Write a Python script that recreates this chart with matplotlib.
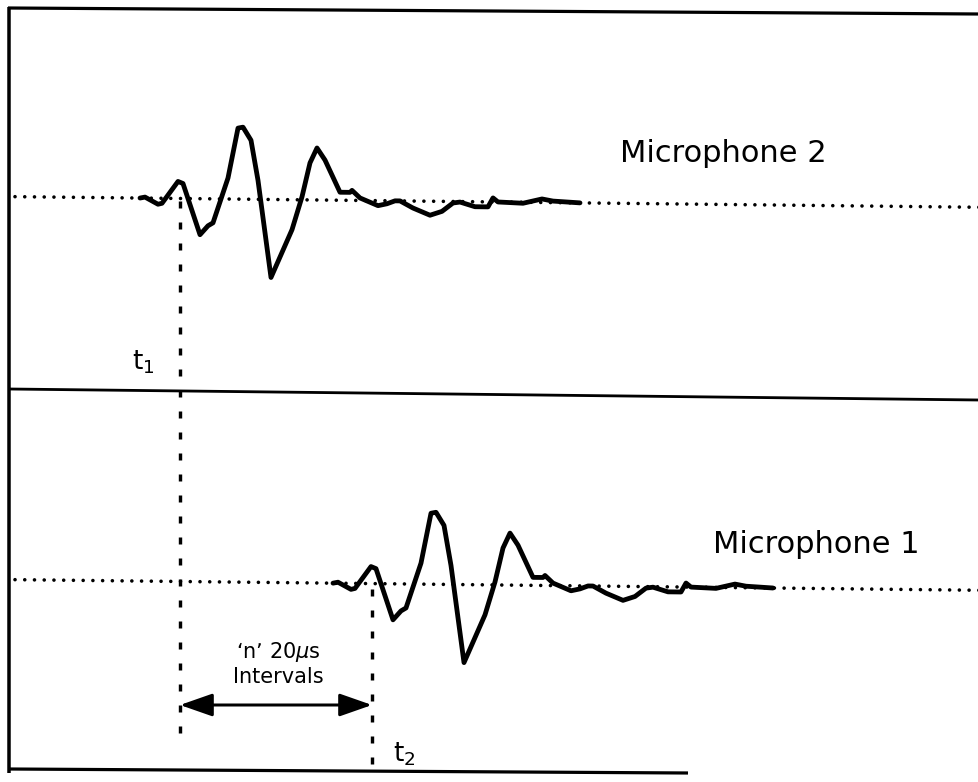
import numpy as np
import matplotlib.pyplot as plt
from matplotlib.patches import FancyArrowPatch

# pressure pulse as recorded, time from trace start vs. deflection from the
# baseline (both in drawing units, positive deflection is drawn downwards)
pulse_t = [0, 5, 18, 22, 38, 43, 60, 68, 73, 88, 98, 103, 111, 118, 131, 152,
           162, 170, 177, 185, 200, 210, 212, 220, 238, 247, 255, 260, 273,
           290, 302, 313, 320, 335, 348, 353, 358, 383, 402, 413, 440]
pulse_p = [0, -1, 6, 5, -17, -15, 36, 27, 24, -21, -71, -72, -59, -19, 78, 30,
           -3, -37, -52, -40, -8, -8, -10, -2.5, 5, 3, 0, 0, 7, 14,
           10, 1.5, 0.5, 5, 5, -4, 0, 1, -3.5, -1.5, 0]

mic2_start = 140      # trace start, microphone 2
delay = 193           # arrival delay at microphone 1
t1 = 180              # first peak at microphone 2
t2 = t1 + delay - 1   # same peak at microphone 1

labels = ["Microphone 2", "Microphone 1"]
base_y = [196.5, 579.5]   # baseline height at x = 0
skew = 0.011              # baseline drift across the page

pulse_t = np.array(pulse_t, dtype=float)
pulse_p = np.array(pulse_p, dtype=float)

fig = plt.figure(figsize=(9.79, 7.82), dpi=100)
ax = fig.add_axes([0, 0, 1, 1])
ax.set_xlim(0, 979)
ax.set_ylim(782, 0)
ax.axis("off")

px = 72 / 100  # points per pixel

# frame and the divider between the two traces
ax.plot([8, 979], [8, 14], color="k", lw=3.2 * px, solid_capstyle="butt")
ax.plot([9, 9], [7, 773], color="k", lw=3.5 * px, solid_capstyle="butt")
ax.plot([9, 688], [769, 773], color="k", lw=3.2 * px, solid_capstyle="butt")
ax.plot([9, 979], [389, 400], color="k", lw=2.8 * px, solid_capstyle="butt")

# dotted baselines
xb = np.array([15, 979])
dot_lw = 3.6 * px
for b in base_y:
    ax.plot(xb, b + skew * xb, color="k", lw=dot_lw,
            linestyle=(0, (0.01, 9.7 * px / dot_lw)), dash_capstyle="round")

# the two traces
for b, start in zip(base_y, [mic2_start, mic2_start + delay]):
    x = start + pulse_t
    y = b + skew * x + pulse_p
    ax.plot(x, y, color="k", lw=4.8 * px, solid_joinstyle="round",
            solid_capstyle="round")

# time markers
vlw = 3.4 * px
vstyle = (0, (7 * px / vlw, 14 * px / vlw))
ax.plot([t1, t1], [201, 742], color="k", lw=vlw, linestyle=vstyle,
        dash_capstyle="butt")
ax.plot([t2, t2], [589, 768], color="k", lw=vlw, linestyle=vstyle,
        dash_capstyle="butt")

arrow = FancyArrowPatch((t1, 705), (t2, 705),
                        arrowstyle="<|-|>,head_length=20,head_width=7",
                        mutation_scale=1, lw=3 * px, color="k",
                        shrinkA=0, shrinkB=0)
ax.add_patch(arrow)

# labels
ax.text(620, 162, labels[0], fontsize=22, va="baseline", ha="left")
ax.text(713, 553, labels[1], fontsize=22, va="baseline", ha="left")
ax.text(132, 370, "t$_1$", fontsize=19, va="baseline", ha="left")
ax.text(393, 762, "t$_2$", fontsize=19, va="baseline", ha="left")
ax.text(278, 658, "\u2018n\u2019 20$\\mu$s", fontsize=15, va="baseline",
        ha="center")
ax.text(278, 683, "Intervals", fontsize=15, va="baseline", ha="center")

fig.savefig("out.png", dpi=100, facecolor="white")
